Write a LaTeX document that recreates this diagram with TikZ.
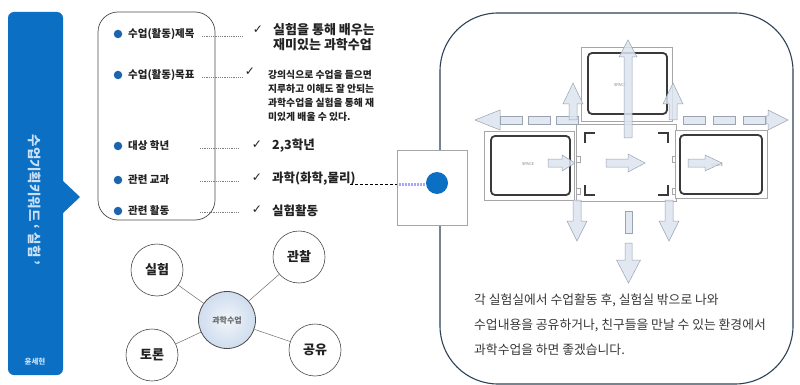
\documentclass[tikz,border=0pt]{standalone}
\usepackage{fontspec}
\setmainfont{Noto Sans CJK KR}
\newfontfamily\dvs{DejaVu Sans}
\definecolor{barblue}{HTML}{0B6FC4}
\definecolor{barlight}{HTML}{C9E0F6}
\definecolor{dotblue}{HTML}{1C64AE}
\definecolor{boxline}{HTML}{4A4A4A}
\definecolor{bigline}{HTML}{2E4257}
\definecolor{arrowfill}{HTML}{DCE4F0}
\definecolor{arrowline}{HTML}{9AA4B0}
\definecolor{roomdark}{HTML}{3A3A3A}
\definecolor{txt}{HTML}{222222}
\definecolor{mcin}{HTML}{F1F5FA}
\definecolor{mcout}{HTML}{CFDDEE}
\newcommand\vblk[6]{\filldraw[arr] ({#1-#6},#2) -- ({#1-#6},#3) -- ({#1-#5},#3) -- (#1,#4) -- ({#1+#5},#3) -- ({#1+#6},#3) -- ({#1+#6},#2) -- cycle;}
\newcommand\hblk[6]{\filldraw[arr] (#2,{#1-#6}) -- (#3,{#1-#6}) -- (#3,{#1-#5}) -- (#4,#1) -- (#3,{#1+#5}) -- (#3,{#1+#6}) -- (#2,{#1+#6}) -- cycle;}
\begin{document}
\begin{tikzpicture}[x=1pt,y=-1pt,
  bullet/.style={circle,fill=dotblue,minimum size=8.5,inner sep=0},
  lab/.style={anchor=west,inner sep=0,text=txt,font=\bfseries\fontsize{10.5}{12}\selectfont},
  val/.style={anchor=west,inner sep=0,text=txt,font=\bfseries\fontsize{12.5}{14}\selectfont},
  chk/.style={inner sep=0,text=txt,font=\dvs\fontsize{12}{12}\selectfont},
  dotline/.style={gray,line width=0.5,dash pattern=on 1pt off 0.8pt},
  mm/.style={circle,draw=boxline,line width=0.6,minimum size=52,inner sep=0,text=txt,font=\bfseries\fontsize{13}{13}\selectfont},
  mmline/.style={draw=boxline!80,line width=0.5},
  arr/.style={fill=arrowfill,draw=arrowline,line width=0.5,fill opacity=0.85},
  roomout/.style={draw=gray!70,line width=0.6,fill=white},
  roomin/.style={draw=roomdark,line width=1.8,rounded corners=4},
  spacelab/.style={text=gray,font=\fontsize{4}{4}\selectfont,inner sep=0}]
\useasboundingbox (0,0) rectangle (800,385);
\fill[white] (0,0) rectangle (800,385);
% left blue bar
\fill[barblue,rounded corners=6] (8,12) rectangle (63,375);
\fill[barblue] (62,180) -- (80,197) -- (62,214) -- cycle;
\node[rotate=-90,text=barlight,font=\bfseries\fontsize{13.5}{13.5}\selectfont] (bartitle) at (35,200) {수업기획키워드 ` 실험 '};
\node[text=barlight,font=\bfseries\fontsize{7.5}{7.5}\selectfont] (author) at (35,362) {윤세현};
% left info box
\draw[boxline,line width=0.7,rounded corners=20] (98,12) rectangle (215,220);
\node[bullet] (b1) at (118,34) {};
\node[bullet] (b2) at (118,75) {};
\node[bullet] (b3) at (118,146) {};
\node[bullet] (b4) at (118,180) {};
\node[bullet] (b5) at (118,211) {};
\node[lab] (l1) at (128,34) {수업(활동)제목};
\node[lab] (l2) at (128,75) {수업(활동)목표};
\node[lab] (l3) at (128,146) {대상 학년};
\node[lab] (l4) at (128,180) {관련 교과};
\node[lab] (l5) at (128,211) {관련 활동};
\coordinate (d1a) at (202,36); \coordinate (d1b) at (243,36);
\coordinate (d2a) at (202,77); \coordinate (d2b) at (243,77);
\coordinate (d3a) at (200,148); \coordinate (d3b) at (238,148);
\coordinate (d4a) at (200,181); \coordinate (d4b) at (238,181);
\coordinate (d5a) at (200,212); \coordinate (d5b) at (238,212);
\draw[dotline] (d1a) -- (d1b);
\draw[dotline] (d2a) -- (d2b);
\draw[dotline] (d3a) -- (d3b);
\draw[dotline] (d4a) -- (d4b);
\draw[dotline] (d5a) -- (d5b);
\node[chk] (c1) at (258,30) {✓};
\node[chk] (c2) at (250,72) {✓};
\node[chk] (c3) at (257,145) {✓};
\node[chk] (c4) at (257,178) {✓};
\node[chk] (c5) at (257,210) {✓};
\node[anchor=north west,inner sep=0,align=left,text=txt,font=\bfseries\fontsize{13}{15}\selectfont] (v1) at (273,23) {실험을 통해 배우는\\재미있는 과학수업};
\node[anchor=north west,inner sep=0,align=left,text=txt,font=\bfseries\fontsize{9.8}{13.8}\selectfont] (v2) at (268,70.5) {강의식으로 수업을 들으면\\지루하고 이해도 잘 안되는\\과학수업을 실험을 통해 재\\미있게 배울 수 있다.};
\node[val] (v3) at (272,146) {2,3학년};
\node[val] (v4) at (272,179) {과학(화학,물리)};
\node[val] (v5) at (272,211) {실험활동};
% mind map
\node[circle,draw=boxline,line width=0.8,minimum size=57,inner sep=0,inner color=mcin,outer color=mcout,text=gray!80!black,font=\bfseries\fontsize{8}{8}\selectfont] (mc) at (227,320) {과학수업};
\node[mm] (m1) at (157,270) {실험};
\node[mm] (m2) at (299,257) {관찰};
\node[mm] (m3) at (152,355) {토론};
\node[mm] (m4) at (315,350) {공유};
\draw[mmline] (mc) -- (m1);
\draw[mmline] (mc) -- (m2);
\draw[mmline] (mc) -- (m3);
\draw[mmline] (mc) -- (m4);
% big right box
\draw[bigline,line width=1.1,rounded corners=58] (440,13) rectangle (793,384);
% small square with dot
\node[draw=gray!70,fill=white,line width=0.6,minimum width=70,minimum height=75,inner sep=0] (sq) at (432,187.5) {};
\draw[blue!35,line width=3,dash pattern=on 2pt off 1pt] (399,184) -- (426,184);
\node[circle,fill=barblue,minimum size=22,inner sep=0] (dot) at (437,183) {};
\coordinate (dashstart) at (350,184);
\draw[black,line width=0.9,dash pattern=on 3pt off 2pt] (dashstart) -- (sq.west |- dashstart);
% floor plan rooms
\draw[roomout] (576,124) rectangle (676,201);
\draw[roomout] (581,47) rectangle (672,121);
\draw[roomout] (484,131) rectangle (574,200);
\draw[roomout] (675,130) rectangle (767,198);
\draw[roomin] (588,53) rectangle (667,114);
\draw[roomin] (491,136) rectangle (570,195);
\draw[roomin] (680,135) rectangle (762,194);
\draw[roomdark,line width=1.8] (585,143) -- (585,133) -- (595,133);
\draw[roomdark,line width=1.8] (658,133) -- (668,133) -- (668,143);
\draw[roomdark,line width=1.8] (585,185) -- (585,195) -- (595,195);
\draw[roomdark,line width=1.8] (658,195) -- (668,195) -- (668,185);
\foreach \yy in {156,188}{
  \draw[gray!70,fill=white,line width=0.4] (576.5,\yy) rectangle (580,\yy+6);
  \draw[gray!70,fill=white,line width=0.4] (672,\yy) rectangle (675.5,\yy+6);
}
\node[spacelab] (sp1) at (620,85) {SPACE};
\node[spacelab] (sp2) at (528,164) {SPACE};
\node[spacelab] (sp3) at (717,165) {SPACE};
% arrows
\hblk{120}{500}{500}{475}{10}{4}
\foreach \xx in {500,528,556}{\filldraw[arr] (\xx,116) rectangle (\xx+22,124);}
\foreach \xx in {683,713,743}{\filldraw[arr] (\xx,116) rectangle (\xx+22,124);}
\hblk{120}{766}{768}{788}{10}{4}
\vblk{628}{138}{57}{40}{9}{4}
\vblk{573}{120}{104}{83}{10}{4}
\vblk{673}{120}{104}{83}{10}{4}
\vblk{577}{200}{221}{241}{10}{4}
\vblk{669}{200}{221}{241}{10}{4}
\filldraw[arr] (625,211) rectangle (632,233);
\vblk{628.5}{243}{260}{283}{12}{3.5}
\hblk{163}{548}{562}{575}{8}{4}
\hblk{163}{606}{628}{645}{9}{4}
\hblk{163}{688}{705}{722}{8}{4}
% bottom text
\node[anchor=north west,inner sep=0,align=left,text=txt!90,font=\fontsize{12.8}{25}\selectfont] (desc) at (474,293.5) {각 실험실에서 수업활동 후, 실험실 밖으로 나와\\수업내용을 공유하거나, 친구들을 만날 수 있는 환경에서\\과학수업을 하면 좋겠습니다.};
\end{tikzpicture}
\end{document}
